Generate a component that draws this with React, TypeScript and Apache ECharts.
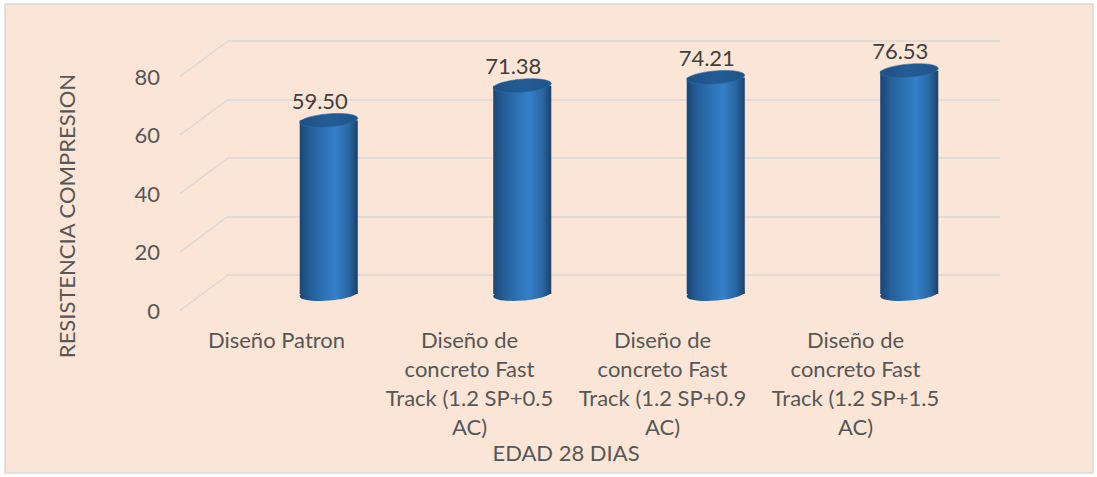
import React, { useEffect, useRef } from "react";
import * as echarts from "echarts";

const categories = [
  "Diseño Patron",
  "Diseño de\nconcreto Fast\nTrack (1.2 SP+0.5\nAC)",
  "Diseño de\nconcreto Fast\nTrack (1.2 SP+0.9\nAC)",
  "Diseño de\nconcreto Fast\nTrack (1.2 SP+1.5\nAC)",
];
const values = [59.5, 71.38, 74.21, 76.53];
const yTicks = [0, 20, 40, 60, 80];
const yTitle = "RESISTENCIA COMPRESION";
const xTitle = "EDAD 28 DIAS";

const FONT = "Lato, 'Open Sans', sans-serif";
const FS = 22;
const TXT = "#575757";
const DEPTH_DX = -48;
const DEPTH_DY = 35.5;

export default function App() {
  const ref = useRef<HTMLDivElement>(null);
  useEffect(() => {
    document.body.style.margin = "0";
    const chart = echarts.init(ref.current!, null, { renderer: "svg" });
    const bodyGrad = {
      type: "linear", x: 0, y: 0, x2: 1, y2: 0,
      colorStops: [
        { offset: 0, color: "#1B4672" },
        { offset: 0.18, color: "#245F98" },
        { offset: 0.5, color: "#2F78BE" },
        { offset: 0.62, color: "#3480C8" },
        { offset: 0.85, color: "#2966A2" },
        { offset: 1, color: "#1A426C" },
      ],
    };
    const topGrad = {
      type: "linear", x: 0, y: 0, x2: 1, y2: 0,
      colorStops: [
        { offset: 0, color: "#1E5186" },
        { offset: 0.5, color: "#235C94" },
        { offset: 1, color: "#1F5589" },
      ],
    };
    const option: any = {
      animation: false,
      backgroundColor: "#ffffff",
      textStyle: { fontFamily: FONT },
      graphic: [
        {
          type: "rect",
          shape: { x: 5, y: 4, width: 1088, height: 469 },
          style: { fill: "#FBE5D6", stroke: "#D9D9D9", lineWidth: 1.5 },
          z: -10,
          silent: true,
        },
        {
          type: "text",
          x: 66,
          y: 216,
          rotation: Math.PI / 2,
          style: {
            text: yTitle,
            fontFamily: FONT,
            fontSize: FS,
            fill: TXT,
            align: "center",
            verticalAlign: "middle",
          },
        },
      ],
      grid: [
        { left: 228, top: 41, width: 772, height: 234 },
        { left: 180, top: 76.5, width: 772, height: 233.5 },
        { left: 232, top: 60.5, width: 774, height: 233.6 },
      ],
      xAxis: [
        { gridIndex: 0, type: "category", data: categories, show: false },
        {
          gridIndex: 1,
          type: "category",
          data: categories,
          axisLine: { show: false },
          axisTick: { show: false },
          axisLabel: {
            interval: 0,
            margin: 15,
            fontSize: FS,
            lineHeight: 29,
            color: TXT,
            fontFamily: FONT,
            align: "center",
          },
          name: xTitle,
          nameLocation: "middle",
          nameGap: 131,
          nameTextStyle: { fontSize: FS, color: TXT, fontFamily: FONT },
        },
        { gridIndex: 2, type: "category", data: categories, show: false },
      ],
      yAxis: [
        {
          gridIndex: 0,
          type: "value",
          min: 0,
          max: 80,
          interval: 20,
          axisLabel: { show: false },
          axisLine: { show: false },
          axisTick: { show: false },
          splitLine: { show: true, lineStyle: { color: "#D9D9D9", width: 1.5 } },
        },
        {
          gridIndex: 1,
          type: "value",
          min: 0,
          max: 80,
          interval: 20,
          axisLine: { show: false },
          axisTick: { show: false },
          splitLine: { show: false },
          axisLabel: { margin: 20, fontSize: FS, color: TXT, fontFamily: FONT },
        },
        {
          gridIndex: 2,
          type: "value",
          min: 0,
          max: 80,
          interval: 20,
          show: false,
          splitLine: { show: false },
        },
      ],
      series: [
        {
          type: "custom",
          xAxisIndex: 0,
          yAxisIndex: 0,
          data: yTicks,
          silent: true,
          z: 1,
          renderItem: (params: any, api: any) => {
            const cs = params.coordSys;
            const y = api.coord([0, api.value(0)])[1];
            return {
              type: "line",
              shape: { x1: cs.x, y1: y, x2: cs.x + DEPTH_DX, y2: y + DEPTH_DY },
              style: { stroke: "#D9D9D9", lineWidth: 1.5 },
            };
          },
          encode: { y: 0 },
        },
        {
          type: "custom",
          xAxisIndex: 2,
          yAxisIndex: 2,
          data: values.map((v, i) => [i, v]),
          z: 5,
          renderItem: (params: any, api: any) => {
            const i = api.value(0);
            const v = api.value(1);
            const top = api.coord([i, v]);
            const base = api.coord([i, 0]);
            const w = api.size([1, 0])[0] * 0.3;
            const rx = w / 2;
            const ry = 6.5;
            const tilt = -0.08;
            return {
              type: "group",
              children: [
                {
                  type: "ellipse",
                  x: base[0],
                  y: base[1],
                  rotation: -tilt,
                  shape: { cx: 0, cy: 0, rx, ry },
                  style: { fill: bodyGrad },
                },
                {
                  type: "rect",
                  shape: { x: top[0] - rx, y: top[1], width: w, height: base[1] - top[1] },
                  style: { fill: bodyGrad },
                },
                {
                  type: "ellipse",
                  x: top[0],
                  y: top[1],
                  rotation: -tilt,
                  shape: { cx: 0, cy: 0, rx, ry },
                  style: { fill: topGrad, stroke: "#2A6BA8", lineWidth: 0.6 },
                },
                {
                  type: "text",
                  x: top[0] - 9,
                  y: top[1] - 20,
                  style: {
                    text: v.toFixed(2),
                    fontFamily: FONT,
                    fontSize: FS,
                    fill: "#404040",
                    align: "center",
                    verticalAlign: "middle",
                  },
                },
              ],
            };
          },
          encode: { x: 0, y: 1 },
        },
      ],
    };
    chart.setOption(option);
    return () => chart.dispose();
  }, []);
  return <div ref={ref} style={{ width: 1097, height: 477 }} />;
}
